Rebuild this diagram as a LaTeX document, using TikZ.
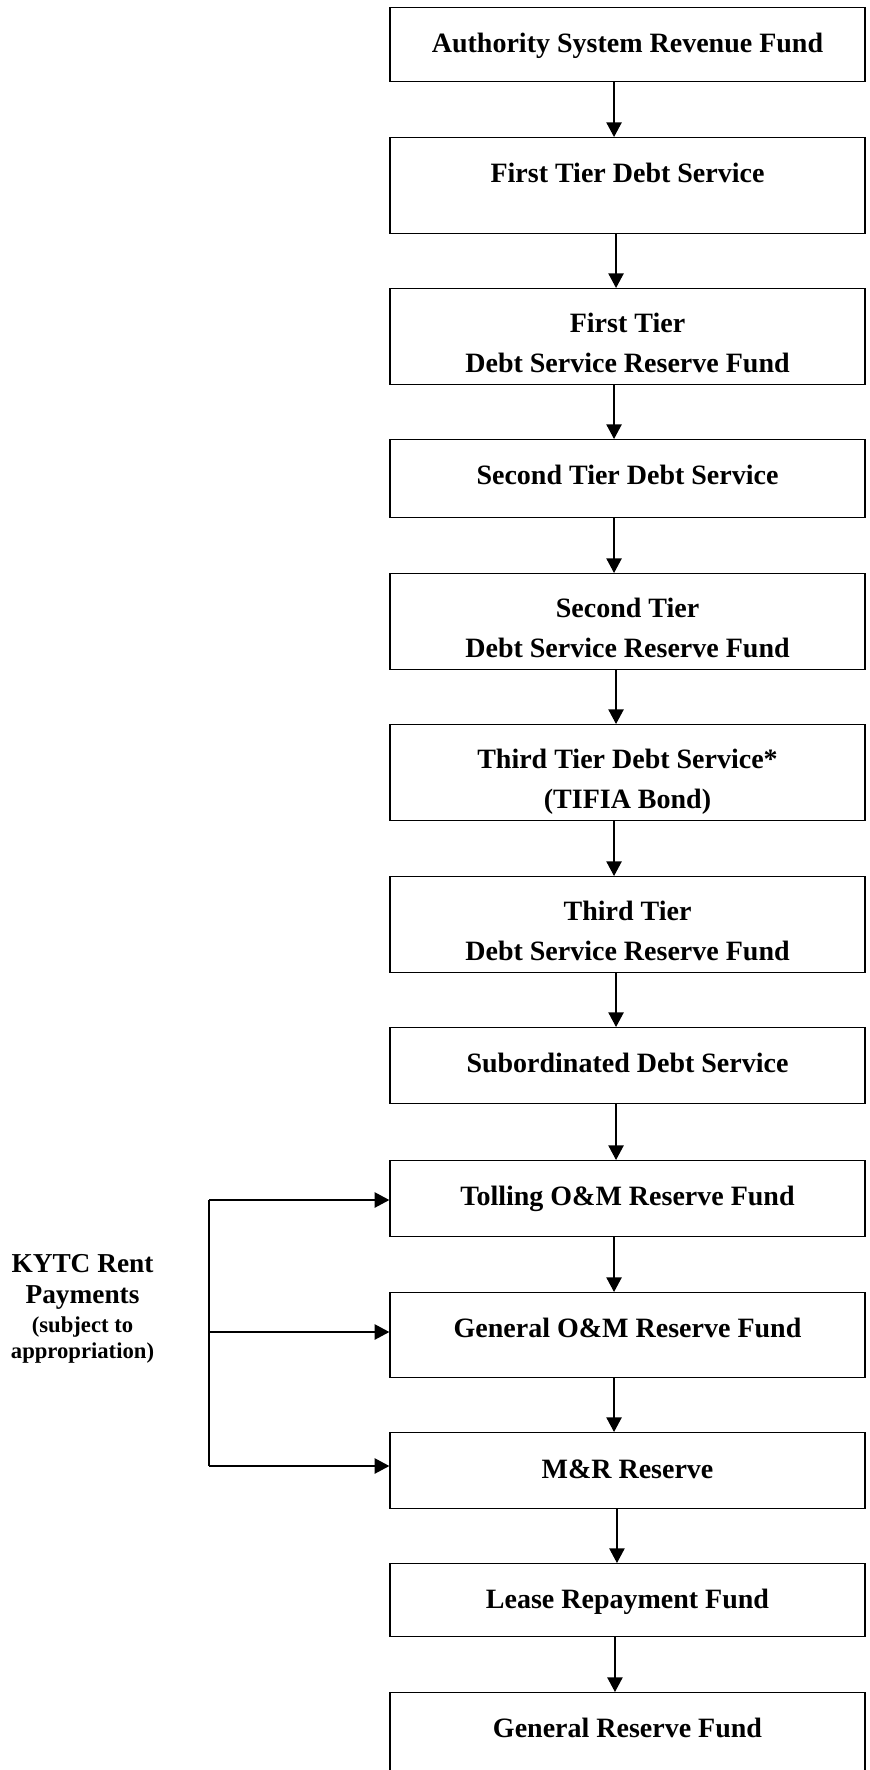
\documentclass[tikz,border=0pt]{standalone}
\usepackage{fontspec}
\setmainfont{Liberation Serif}
\usetikzlibrary{arrows.meta}
\begin{document}
\begin{tikzpicture}[x=0.75pt,y=-0.75pt,
  box/.style={draw=black,line width=1pt,rectangle,minimum width=356.25pt,inner sep=0pt,anchor=north},
  lbl/.style={anchor=base,inner sep=0pt,font=\fontsize{21}{25}\selectfont\bfseries},
  side/.style={anchor=base,inner sep=0pt,font=\fontsize{20.5}{24}\selectfont\bfseries},
  sidesm/.style={anchor=base,inner sep=0pt,font=\fontsize{17}{20}\selectfont\bfseries},
  arr/.style={line width=1pt,-{Triangle[length=11pt,width=11.5pt]}},
  ln/.style={line width=1pt}]
\clip (0,0) rectangle (870,1770);
\fill[white] (0,0) rectangle (870,1770);
% boxes (top y, height in px)
\node[box,minimum height=55.5pt] (b1)  at (627.5,7) {};
\node[box,minimum height=72pt]   (b2)  at (627.5,137) {};
\node[box,minimum height=72pt]   (b3)  at (627.5,288) {};
\node[box,minimum height=58.5pt] (b4)  at (627.5,439) {};
\node[box,minimum height=72pt]   (b5)  at (627.5,573) {};
\node[box,minimum height=72pt]   (b6)  at (627.5,724) {};
\node[box,minimum height=72pt]   (b7)  at (627.5,876) {};
\node[box,minimum height=57pt]   (b8)  at (627.5,1027) {};
\node[box,minimum height=57pt]   (b9)  at (627.5,1160) {};
\node[box,minimum height=63.75pt](b10) at (627.5,1292) {};
\node[box,minimum height=57pt]   (b11) at (627.5,1432) {};
\node[box,minimum height=54.75pt](b12) at (627.5,1563) {};
\node[box,minimum height=66pt]   (b13) at (627.5,1692) {};
% texts
\node[lbl] (t1)  at (627.5,52)   {Authority System Revenue Fund};
\node[lbl] (t2)  at (627.5,182)  {First Tier Debt Service};
\node[lbl] (t3a) at (627.5,332)  {First Tier};
\node[lbl] (t3b) at (627.5,372)  {Debt Service Reserve Fund};
\node[lbl] (t4)  at (627.5,484)  {Second Tier Debt Service};
\node[lbl] (t5a) at (627.5,617)  {Second Tier};
\node[lbl] (t5b) at (627.5,657)  {Debt Service Reserve Fund};
\node[lbl] (t6a) at (627.5,768)  {Third Tier Debt Service*};
\node[lbl] (t6b) at (627.5,808)  {(TIFIA Bond)};
\node[lbl] (t7a) at (627.5,920)  {Third Tier};
\node[lbl] (t7b) at (627.5,960)  {Debt Service Reserve Fund};
\node[lbl] (t8)  at (627.5,1072) {Subordinated Debt Service};
\node[lbl] (t9)  at (627.5,1205) {Tolling O\&M Reserve Fund};
\node[lbl] (t10) at (627.5,1337) {General O\&M Reserve Fund};
\node[lbl] (t11) at (627.5,1478) {M\&R Reserve};
\node[lbl] (t12) at (627.5,1608) {Lease Repayment Fund};
\node[lbl] (t13) at (627.5,1737) {General Reserve Fund};
% side label
\node[side]   (k1) at (82.5,1272) {KYTC Rent};
\node[side]   (k2) at (82.5,1303) {Payments};
\node[sidesm] (k3) at (82.5,1332) {(subject to};
\node[sidesm] (k4) at (82.5,1358) {appropriation)};
% vertical arrows
\draw[arr] ([xshift=-10.1pt]b1.south)  -- ([xshift=-10.1pt]b2.north);
\draw[arr] ([xshift=-8.6pt]b2.south)   -- ([xshift=-8.6pt]b3.north);
\draw[arr] ([xshift=-10.1pt]b3.south)  -- ([xshift=-10.1pt]b4.north);
\draw[arr] ([xshift=-10.1pt]b4.south)  -- ([xshift=-10.1pt]b5.north);
\draw[arr] ([xshift=-8.6pt]b5.south)   -- ([xshift=-8.6pt]b6.north);
\draw[arr] ([xshift=-10.1pt]b6.south)  -- ([xshift=-10.1pt]b7.north);
\draw[arr] ([xshift=-8.6pt]b7.south)   -- ([xshift=-8.6pt]b8.north);
\draw[arr] ([xshift=-8.6pt]b8.south)   -- ([xshift=-8.6pt]b9.north);
\draw[arr] ([xshift=-10.1pt]b9.south)  -- ([xshift=-10.1pt]b10.north);
\draw[arr] ([xshift=-10.1pt]b10.south) -- ([xshift=-10.1pt]b11.north);
\draw[arr] ([xshift=-7.9pt]b11.south)  -- ([xshift=-7.9pt]b12.north);
\draw[arr] ([xshift=-9.4pt]b12.south)  -- ([xshift=-9.4pt]b13.north);
% side connectors
\coordinate (s1) at (209,1200);
\coordinate (s2) at (209,1332);
\coordinate (s3) at (209,1466);
\draw[ln] (s1) -- (s3);
\draw[arr] (s1) -- (s1 -| b9.west);
\draw[arr] (s2) -- (s2 -| b10.west);
\draw[arr] (s3) -- (s3 -| b11.west);
\end{tikzpicture}
\end{document}
